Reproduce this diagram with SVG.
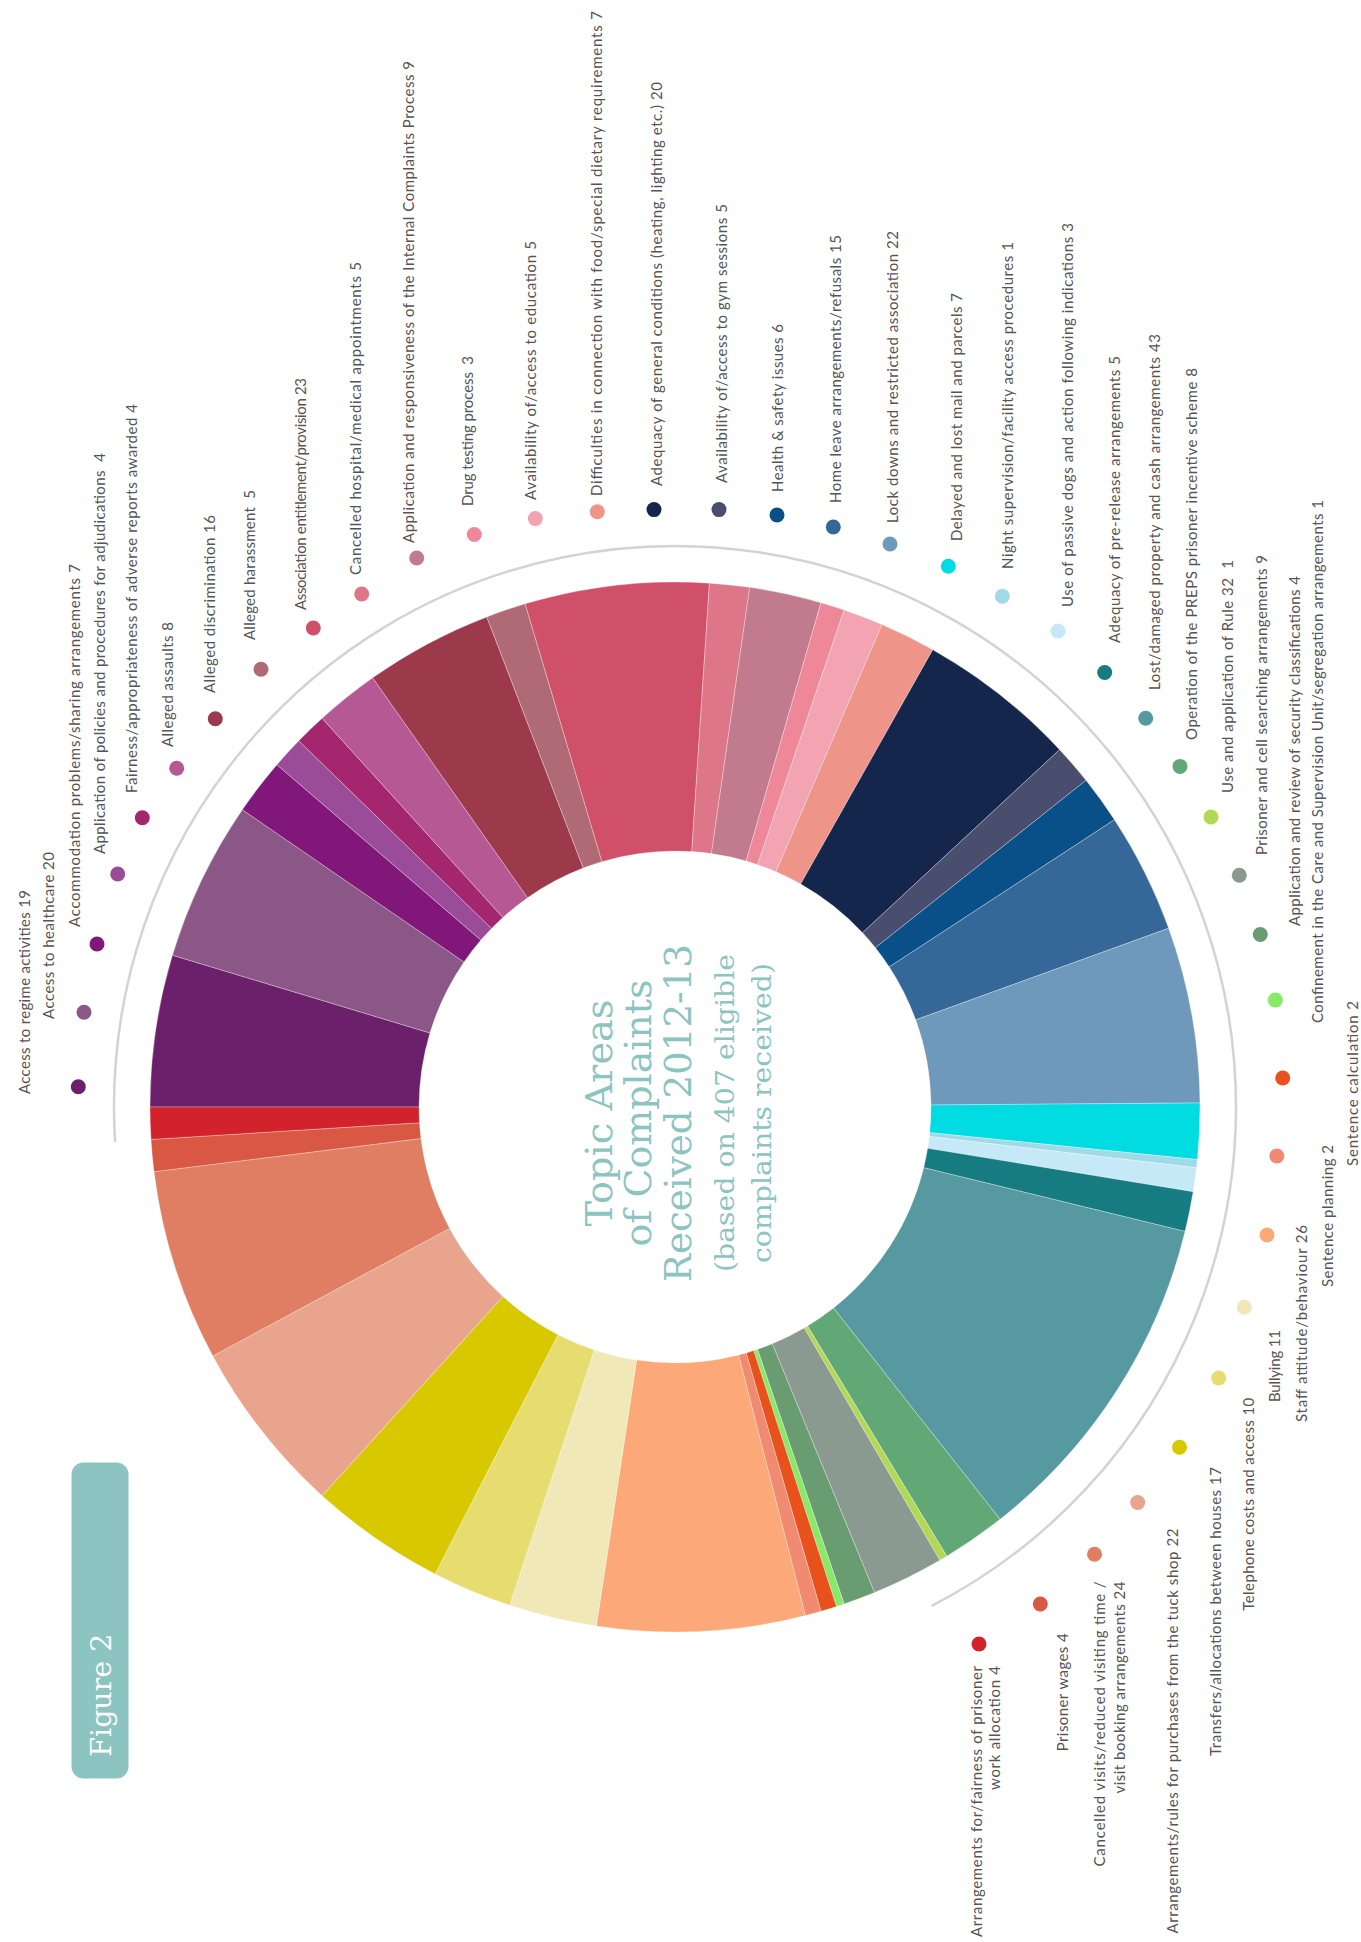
<svg xmlns="http://www.w3.org/2000/svg" width="1361" height="1942" viewBox="0 0 1361 1942">
<style>
.seg{stroke:#fff;stroke-width:0.5;stroke-opacity:0.6}
.lbl{font-family:Lato,"Open Sans",sans-serif;font-size:15px;fill:#555}
.e{text-anchor:end}
.ttl{font-family:"DejaVu Serif",serif;fill:#8cc4c2;text-anchor:middle}
.c1{fill:#6c1f6a}.c2{fill:#8b5787}.c3{fill:#82177a}.c4{fill:#9a4c98}.c5{fill:#a3266f}
.c6{fill:#b65893}.c7{fill:#9c3a4c}.c8{fill:#b06a76}.c9{fill:#d0506a}.c10{fill:#dc7688}
.c11{fill:#c27a8e}.c12{fill:#ee8898}.c13{fill:#f3a4b2}.c14{fill:#ef9488}.c15{fill:#14264c}
.c16{fill:#4a4e6e}.c17{fill:#0a5088}.c18{fill:#356899}.c19{fill:#6e99bb}.c20{fill:#00dce2}
.c21{fill:#a0dae6}.c22{fill:#c6e9f7}.c23{fill:#177b82}.c24{fill:#5699a0}.c25{fill:#62a876}
.c26{fill:#b2d955}.c27{fill:#8a9a90}.c28{fill:#6a9c72}.c29{fill:#88ea68}.c30{fill:#e8501c}
.c31{fill:#f08a70}.c32{fill:#fca878}.c33{fill:#f1e8b8}.c34{fill:#e6dc70}.c35{fill:#d8c800}
.c36{fill:#e8a48c}.c37{fill:#e07e64}.c38{fill:#d95844}.c39{fill:#d2232c}
</style>
<rect width="1361" height="1942" fill="#fff"/>
<g id="connectors">
<path d="M115.1 1142.2 A561 561 0 1 1 931.8 1605.8" fill="none" stroke="#d3d3d3" stroke-width="2.5"/>
</g>
<g id="n1"><path class="seg c1" d="M150 1107A525 525 0 0 1 172.43 955.20L429.94 1032.98A256 256 0 0 0 419 1107Z"/><circle class="c1" cx="78.3" cy="1086.7" r="7.5"/><text class="lbl" transform="translate(30,1094) rotate(-90)" textLength="204">Access to regime activities 19</text></g>
<g id="n2"><path class="seg c2" d="M172.43 955.20A525 525 0 0 1 242.31 809.67L464.01 962.01A256 256 0 0 0 429.94 1032.98Z"/><circle class="c2" cx="84" cy="1012.3" r="7.5"/><text class="lbl" transform="translate(54.3,1019) rotate(-90)" textLength="167">Access to healthcare 20</text></g>
<g id="n3"><path class="seg c3" d="M242.31 809.67A525 525 0 0 1 276.91 764.73L480.89 940.10A256 256 0 0 0 464.01 962.01Z"/><circle class="c3" cx="97" cy="944" r="7.5"/><text class="lbl" transform="translate(80,927) rotate(-90)" textLength="363">Accommodation problems/sharing arrangements 7</text></g>
<g id="n4"><path class="seg c4" d="M276.91 764.73A525 525 0 0 1 298.78 740.81L491.55 928.44A256 256 0 0 0 480.89 940.10Z"/><circle class="c4" cx="117.7" cy="874" r="7.5"/><text class="lbl" transform="translate(105,854) rotate(-90)" textLength="401">Application of policies and procedures for adjudications&#160; 4</text></g>
<g id="n5"><path class="seg c5" d="M298.78 740.81A525 525 0 0 1 322.10 718.30L502.92 917.46A256 256 0 0 0 491.55 928.44Z"/><circle class="c5" cx="142.3" cy="817.7" r="7.5"/><text class="lbl" transform="translate(137,793) rotate(-90)" textLength="389">Fairness/appropriateness of adverse reports awarded 4</text></g>
<g id="n6"><path class="seg c6" d="M322.10 718.30A525 525 0 0 1 372.67 677.79L527.58 897.71A256 256 0 0 0 502.92 917.46Z"/><circle class="c6" cx="176.7" cy="768.3" r="7.5"/><text class="lbl" transform="translate(173.3,747) rotate(-90)" textLength="125">Alleged assaults 8</text></g>
<g id="n7"><path class="seg c7" d="M372.67 677.79A525 525 0 0 1 486.80 616.89L583.23 868.01A256 256 0 0 0 527.58 897.71Z"/><circle class="c7" cx="215.3" cy="718.7" r="7.5"/><text class="lbl" transform="translate(215,693) rotate(-90)" textLength="178">Alleged discrimination 16</text></g>
<g id="n8"><path class="seg c8" d="M486.80 616.89A525 525 0 0 1 525.15 603.85L601.93 861.65A256 256 0 0 0 583.23 868.01Z"/><circle class="c8" cx="261" cy="669.3" r="7.5"/><text class="lbl" transform="translate(255.3,640) rotate(-90)" textLength="150">Alleged harassment&#160; 5</text></g>
<g id="n9"><path class="seg c9" d="M525.15 603.85A525 525 0 0 1 709.42 583.13L691.78 851.55A256 256 0 0 0 601.93 861.65Z"/><circle class="c9" cx="313.3" cy="628" r="7.5"/><text class="lbl" transform="translate(305.7,610) rotate(-90)" textLength="232">Association entitlement/provision 23</text></g>
<g id="n10"><path class="seg c10" d="M709.42 583.13A525 525 0 0 1 749.72 587.34L711.43 853.61A256 256 0 0 0 691.78 851.55Z"/><circle class="c10" cx="361.7" cy="594" r="7.5"/><text class="lbl" transform="translate(360.7,575) rotate(-90)" textLength="313">Cancelled hospital/medical appointments 5</text></g>
<g id="n11"><path class="seg c11" d="M749.72 587.34A525 525 0 0 1 820.97 602.70L746.18 861.09A256 256 0 0 0 711.43 853.61Z"/><circle class="c11" cx="416.7" cy="558" r="7.5"/><text class="lbl" transform="translate(414,543) rotate(-90)" textLength="482">Application and responsiveness of the Internal Complaints Process 9</text></g>
<g id="n12"><path class="seg c12" d="M820.97 602.70A525 525 0 0 1 844.16 610.00L757.48 864.65A256 256 0 0 0 746.18 861.09Z"/><circle class="c12" cx="474.3" cy="534.5" r="7.5"/><text class="lbl" transform="translate(472.5,506) rotate(-90)" textLength="150">Drug testing process&#160; 3</text></g>
<g id="n13"><path class="seg c13" d="M844.16 610.00A525 525 0 0 1 881.98 624.52L775.93 871.73A256 256 0 0 0 757.48 864.65Z"/><circle class="c13" cx="535.3" cy="518.6" r="7.5"/><text class="lbl" transform="translate(536,500) rotate(-90)" textLength="259">Availability of/access to education 5</text></g>
<g id="n14"><path class="seg c14" d="M881.98 624.52A525 525 0 0 1 932.81 649.66L800.71 883.99A256 256 0 0 0 775.93 871.73Z"/><circle class="c14" cx="597.3" cy="511.8" r="7.5"/><text class="lbl" transform="translate(602,496) rotate(-90)" textLength="485">Difficulties in connection with food/special dietary requirements 7</text></g>
<g id="n15"><path class="seg c15" d="M932.81 649.66A525 525 0 0 1 1059.59 749.63L862.53 932.74A256 256 0 0 0 800.71 883.99Z"/><circle class="c15" cx="654" cy="509.6" r="7.5"/><text class="lbl" transform="translate(661.7,486) rotate(-90)" textLength="404">Adequacy of general conditions (heating, lighting etc.) 20</text></g>
<g id="n16"><path class="seg c16" d="M1059.59 749.63A525 525 0 0 1 1086.00 780.34L875.41 947.72A256 256 0 0 0 862.53 932.74Z"/><circle class="c16" cx="719" cy="509.6" r="7.5"/><text class="lbl" transform="translate(726.7,483) rotate(-90)" textLength="279">Availability of/access to gym sessions 5</text></g>
<g id="n17"><path class="seg c17" d="M1086.00 780.34A525 525 0 0 1 1114.45 819.76L889.28 966.93A256 256 0 0 0 875.41 947.72Z"/><circle class="c17" cx="777" cy="515" r="7.5"/><text class="lbl" transform="translate(783.3,492) rotate(-90)" textLength="168">Health &amp; safety issues 6</text></g>
<g id="n18"><path class="seg c18" d="M1114.45 819.76A525 525 0 0 1 1168.65 928.28L915.71 1019.86A256 256 0 0 0 889.28 966.93Z"/><circle class="c18" cx="833.3" cy="527" r="7.5"/><text class="lbl" transform="translate(840.7,503) rotate(-90)" textLength="268">Home leave arrangements/refusals 15</text></g>
<g id="n19"><path class="seg c19" d="M1168.65 928.28A525 525 0 0 1 1199.98 1102.95L930.99 1105.03A256 256 0 0 0 915.71 1019.86Z"/><circle class="c19" cx="890" cy="544" r="7.5"/><text class="lbl" transform="translate(898.3,523) rotate(-90)" textLength="292">Lock downs and restricted association 22</text></g>
<g id="n20"><path class="seg c20" d="M1199.98 1102.95A525 525 0 0 1 1197.36 1159.59L929.71 1132.64A256 256 0 0 0 930.99 1105.03Z"/><circle class="c20" cx="948.3" cy="566.2" r="7.5"/><text class="lbl" transform="translate(961.7,541) rotate(-90)" textLength="248">Delayed and lost mail and parcels 7</text></g>
<g id="n21"><path class="seg c21" d="M1197.36 1159.59A525 525 0 0 1 1196.48 1167.65L929.28 1136.57A256 256 0 0 0 929.71 1132.64Z"/><circle class="c21" cx="1002.3" cy="596.3" r="7.5"/><text class="lbl" transform="translate(1013.3,569) rotate(-90)" textLength="327">Night supervision/facility access procedures 1</text></g>
<g id="n22"><path class="seg c22" d="M1196.48 1167.65A525 525 0 0 1 1193.12 1191.72L927.64 1148.31A256 256 0 0 0 929.28 1136.57Z"/><circle class="c22" cx="1058" cy="631" r="7.5"/><text class="lbl" transform="translate(1072.7,607) rotate(-90)" textLength="384">Use of passive dogs and action following indications 3</text></g>
<g id="n23"><path class="seg c23" d="M1193.12 1191.72A525 525 0 0 1 1185.04 1231.43L923.71 1167.67A256 256 0 0 0 927.64 1148.31Z"/><circle class="c23" cx="1104.7" cy="672.5" r="7.5"/><text class="lbl" transform="translate(1120,643) rotate(-90)" textLength="287">Adequacy of pre-release arrangements 5</text></g>
<g id="n24"><path class="seg c24" d="M1185.04 1231.43A525 525 0 0 1 1000.06 1519.27L833.51 1308.03A256 256 0 0 0 923.71 1167.67Z"/><circle class="c24" cx="1145.7" cy="718.2" r="7.5"/><text class="lbl" transform="translate(1160,690) rotate(-90)" textLength="356">Lost/damaged property and cash arrangements 43</text></g>
<g id="n25"><path class="seg c25" d="M1000.06 1519.27A525 525 0 0 1 946.80 1556.17L807.53 1326.02A256 256 0 0 0 833.51 1308.03Z"/><circle class="c25" cx="1180" cy="766.4" r="7.5"/><text class="lbl" transform="translate(1196.7,740) rotate(-90)" textLength="372">Operation of the PREPS prisoner incentive scheme 8</text></g>
<g id="n26"><path class="seg c26" d="M946.80 1556.17A525 525 0 0 1 939.84 1560.31L804.14 1328.04A256 256 0 0 0 807.53 1326.02Z"/><circle class="c26" cx="1211" cy="817" r="7.5"/><text class="lbl" transform="translate(1233,793) rotate(-90)" textLength="233">Use and application of Rule 32&#160; 1</text></g>
<g id="n27"><path class="seg c27" d="M939.84 1560.31A525 525 0 0 1 874.50 1592.62L772.28 1343.80A256 256 0 0 0 804.14 1328.04Z"/><circle class="c27" cx="1239.3" cy="875.2" r="7.5"/><text class="lbl" transform="translate(1266.7,855) rotate(-90)" textLength="300">Prisoner and cell searching arrangements 9</text></g>
<g id="n28"><path class="seg c28" d="M874.50 1592.62A525 525 0 0 1 844.16 1604.00L757.48 1349.35A256 256 0 0 0 772.28 1343.80Z"/><circle class="c28" cx="1260.3" cy="934.5" r="7.5"/><text class="lbl" transform="translate(1300,926) rotate(-90)" textLength="350">Application and review of security classifications 4</text></g>
<g id="n29"><path class="seg c29" d="M844.16 1604.00A525 525 0 0 1 836.46 1606.55L753.73 1350.59A256 256 0 0 0 757.48 1349.35Z"/><circle class="c29" cx="1275.3" cy="1000.1" r="7.5"/><text class="lbl" transform="translate(1323.3,1023) rotate(-90)" textLength="523">Confinement in the Care and Supervision Unit/segregation arrangements 1</text></g>
<g id="n30"><path class="seg c30" d="M836.46 1606.55A525 525 0 0 1 820.97 1611.30L746.18 1352.91A256 256 0 0 0 753.73 1350.59Z"/><circle class="c30" cx="1282.7" cy="1078" r="7.5"/><text class="lbl" transform="translate(1358,1166) rotate(-90)" textLength="165">Sentence calculation 2</text></g>
<g id="n31"><path class="seg c31" d="M820.97 1611.30A525 525 0 0 1 805.33 1615.57L738.55 1354.99A256 256 0 0 0 746.18 1352.91Z"/><circle class="c31" cx="1276.8" cy="1156" r="7.5"/><text class="lbl e" transform="translate(1333.3,1145) rotate(-90)" textLength="142">Sentence planning 2</text></g>
<g id="n32"><path class="seg c32" d="M805.33 1615.57A525 525 0 0 1 596.28 1626.06L636.61 1360.10A256 256 0 0 0 738.55 1354.99Z"/><circle class="c32" cx="1267" cy="1235" r="7.5"/><text class="lbl e" transform="translate(1306.7,1225) rotate(-90)" textLength="197">Staff attitude/behaviour 26</text></g>
<g id="n33"><path class="seg c33" d="M596.28 1626.06A525 525 0 0 1 509.68 1605.29L594.39 1349.98A256 256 0 0 0 636.61 1360.10Z"/><circle class="c33" cx="1244.3" cy="1307.3" r="7.5"/><text class="lbl e" transform="translate(1280,1330) rotate(-90)" textLength="72">Bullying 11</text></g>
<g id="n34"><path class="seg c34" d="M509.68 1605.29A525 525 0 0 1 435.03 1573.95L557.99 1334.69A256 256 0 0 0 594.39 1349.98Z"/><circle class="c34" cx="1218.7" cy="1378" r="7.5"/><text class="lbl e" transform="translate(1254,1397.7) rotate(-90)" textLength="213">Telephone costs and access 10</text></g>
<g id="n35"><path class="seg c35" d="M435.03 1573.95A525 525 0 0 1 322.10 1495.70L502.92 1296.54A256 256 0 0 0 557.99 1334.69Z"/><circle class="c35" cx="1179.5" cy="1447.3" r="7.5"/><text class="lbl e" transform="translate(1220.7,1467) rotate(-90)" textLength="289">Transfers/allocations between houses 17</text></g>
<g id="n36"><path class="seg c36" d="M322.10 1495.70A525 525 0 0 1 212.77 1355.94L449.61 1228.39A256 256 0 0 0 502.92 1296.54Z"/><circle class="c36" cx="1137.7" cy="1502.5" r="7.5"/><text class="lbl e" transform="translate(1178.3,1528.5) rotate(-90)" textLength="405">Arrangements/rules for purchases from the tuck shop 22</text></g>
<g id="n37"><path class="seg c37" d="M212.77 1355.94A525 525 0 0 1 154.00 1171.67L420.95 1138.54A256 256 0 0 0 449.61 1228.39Z"/><circle class="c37" cx="1094.5" cy="1554.3" r="7.5"/><text class="lbl e" transform="translate(1105,1581.5) rotate(-90)" textLength="285">Cancelled visits/reduced visiting time /</text><text class="lbl e" transform="translate(1125,1581.5) rotate(-90)" textLength="212">visit booking arrangements 24</text></g>
<g id="n38"><path class="seg c38" d="M154.00 1171.67A525 525 0 0 1 151.00 1139.40L419.49 1122.80A256 256 0 0 0 420.95 1138.54Z"/><circle class="c38" cx="1040.3" cy="1604" r="7.5"/><text class="lbl e" transform="translate(1068.3,1633.3) rotate(-90)" textLength="118">Prisoner wages 4</text></g>
<g id="n39"><path class="seg c39" d="M151.00 1139.40A525 525 0 0 1 150 1107L419 1107A256 256 0 0 0 419.49 1122.80Z"/><circle class="c39" cx="979" cy="1644" r="7.5"/><text class="lbl e" transform="translate(981.7,1666) rotate(-90)" textLength="271">Arrangements for/fairness of prisoner</text><text class="lbl e" transform="translate(1000,1666) rotate(-90)" textLength="124">work allocation 4</text></g>
<g id="title" transform="translate(675,1113) rotate(-90)">
<text class="ttl" x="0" y="-62.8" font-size="38" textLength="227" lengthAdjust="spacingAndGlyphs">Topic Areas</text>
<text class="ttl" x="0" y="-24.5" font-size="38" textLength="267" lengthAdjust="spacingAndGlyphs">of Complaints</text>
<text class="ttl" x="0" y="15.5" font-size="38" textLength="338" lengthAdjust="spacingAndGlyphs">Received 2012-13</text>
<text class="ttl" x="0" y="58.5" font-size="26" textLength="318" lengthAdjust="spacingAndGlyphs">(based on 407 eligible</text>
<text class="ttl" x="0" y="95.5" font-size="26" textLength="300" lengthAdjust="spacingAndGlyphs">complaints received)</text>
</g>
<g id="figure-label">
<rect x="71.5" y="1462.5" width="57" height="316" rx="12" fill="#8cc4c2"/>
<text transform="translate(111,1756.7) rotate(-90)" font-family="'DejaVu Serif',serif" font-size="28" fill="#fff" textLength="123" lengthAdjust="spacingAndGlyphs">Figure 2</text>
</g>
</svg>
